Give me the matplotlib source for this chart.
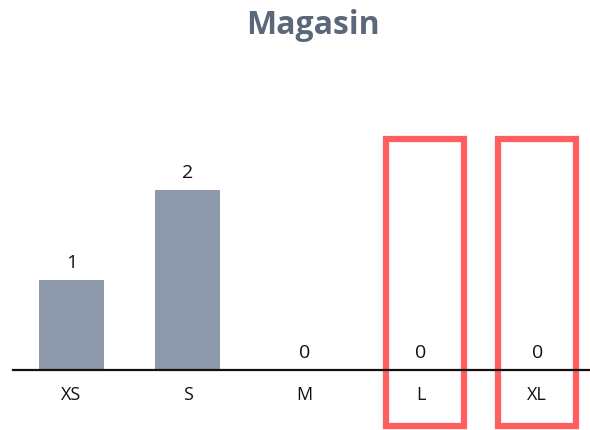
import matplotlib.pyplot as plt
from matplotlib.patches import Rectangle

sizes = ['XS', 'S', 'M', 'L', 'XL']
counts = [1, 2, 0, 0, 0]
highlighted = ['L', 'XL']

W, H = 590, 431
fig = plt.figure(figsize=(W / 100, H / 100), dpi=100)
plt.rcParams['font.family'] = ['Open Sans', 'DejaVu Sans']

# axes placed in pixels: baseline at y=371, 116.5 px per category, 90 px per unit
left_px, base_px, top_px = 13, 371, 60
step = 116.5
unit = 90.0
ax = fig.add_axes([left_px / W, (H - base_px) / H, 5 * step / W, (base_px - top_px) / H])
ax.set_xlim(-0.5, 4.5)
ax.set_ylim(0, (base_px - top_px) / unit)

x = list(range(len(sizes)))
ax.bar(x, counts, width=0.56, color='#8e9aab')
for xi, c in zip(x, counts):
    ax.text(xi, c + 0.1, str(c), ha='center', va='bottom', fontsize=14, color='#111111')

for s in ['top', 'right', 'left']:
    ax.spines[s].set_visible(False)
ax.spines['bottom'].set_linewidth(1.6)
ax.spines['bottom'].set_color('#111111')
ax.set_yticks([])
ax.set_xticks(x)
ax.set_xticklabels(sizes, fontsize=13, color='#111111')
ax.tick_params(axis='x', length=0, pad=11)

# highlight frames, a little wider than a bar slot, running below the axis
shift = {'L': 0.035, 'XL': 0.0}
for s in highlighted:
    i = sizes.index(s)
    ax.add_patch(Rectangle((i - 0.335 + shift[s], -0.62), 0.67, 3.19, fill=False,
                           edgecolor='#ff5f5f', linewidth=4.5, clip_on=False))

fig.text(313 / W, 1 - 25 / H, 'Magasin', ha='center', va='center',
         fontsize=23, fontweight='bold', color='#5b687b')

fig.savefig('out.png', dpi=100)
